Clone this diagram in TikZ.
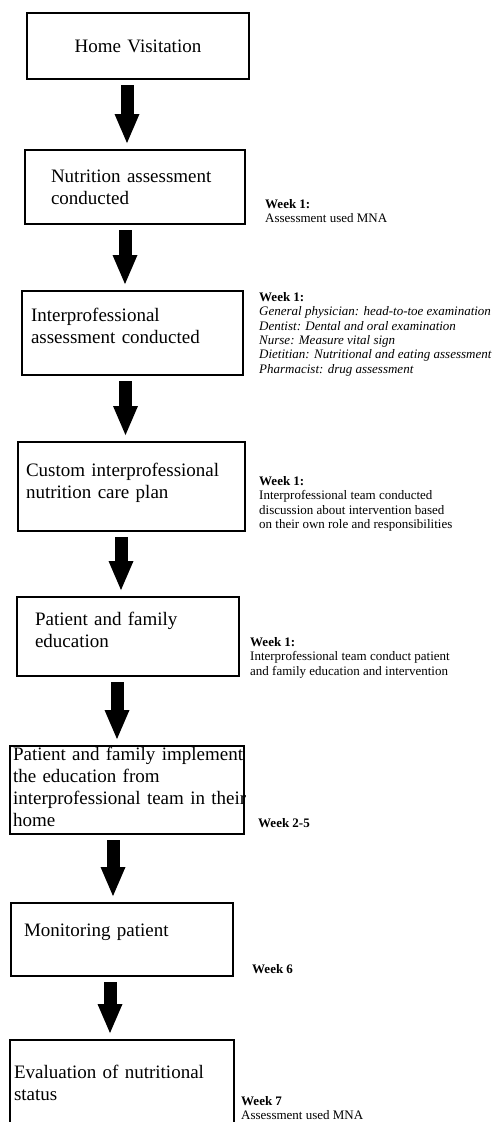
\documentclass[tikz,border=0pt]{standalone}
\usepackage{fontspec}
\setmainfont{Liberation Serif}
\usetikzlibrary{arrows.meta}

\tikzset{
  stepbox/.style={draw, line width=2pt, anchor=north west, inner ysep=0pt, align=left,
    font=\fontsize{19}{22}\selectfont},
  weeknote/.style={anchor=north west, inner sep=0pt, align=left,
    font=\fontsize{13}{14.4}\selectfont},
  bigarrow/.style={line width=13pt, -{Triangle[width=25pt,length=29pt,line width=0pt]},
    shorten <=5pt, shorten >=6pt}
}

\begin{document}
\begin{tikzpicture}[x=1pt,y=-1pt,line join=miter]
  \useasboundingbox (0,0) rectangle (493,1122);
  \node[stepbox, align=center, inner xsep=0pt, text width=222pt, minimum height=66pt] (home) at (26,12) {Home Visitation};
  \node[stepbox, inner xsep=26pt, text width=168pt, minimum height=74pt] (nutr) at (24,149) {Nutrition assessment\\conducted};
  \node[stepbox, inner xsep=9pt, text width=203pt, minimum height=84pt, text depth=36pt] (ipa) at (21,290) {Interprofessional\\assessment conducted};
  \node[stepbox, inner xsep=8pt, text width=211pt, minimum height=89pt, text depth=34pt] (plan) at (17,441) {Custom interprofessional\\nutrition care plan};
  \node[stepbox, inner xsep=18pt, text width=186pt, minimum height=79pt, text depth=36pt] (edu) at (16,596) {Patient and family\\education};
  \node[stepbox, inner xsep=3pt, text width=228pt, minimum height=88pt, text depth=72pt] (impl) at (9,745) {\mbox{Patient and family implement}\\\mbox{the education from}\\\mbox{interprofessional team in their}\\\mbox{home}};
  \node[stepbox, inner xsep=13pt, text width=196pt, minimum height=73pt, text depth=18pt] (mon) at (10,902) {Monitoring patient};
  \node[stepbox, inner xsep=4pt, text width=216pt, minimum height=86pt] (eval) at (9,1039) {Evaluation of nutritional\\status};

  \draw[bigarrow] ([xshift=-11pt]home.south) -- ([xshift=-11pt]home.south |- nutr.north);
  \draw[bigarrow] ([xshift=-10pt]nutr.south) -- ([xshift=-10pt]nutr.south |- ipa.north);
  \draw[bigarrow] ([xshift=-7pt]ipa.south) -- ([xshift=-7pt]ipa.south |- plan.north);
  \draw[bigarrow] ([xshift=-10.5pt]plan.south) -- ([xshift=-10.5pt]plan.south |- edu.north);
  \draw[bigarrow] ([xshift=-11pt]edu.south) -- ([xshift=-11pt]edu.south |- impl.north);
  \draw[bigarrow] ([xshift=-14pt]impl.south) -- ([xshift=-14pt]impl.south |- mon.north);
  \draw[bigarrow] ([xshift=-12pt]mon.south) -- ([xshift=-12pt]mon.south |- eval.north);

  \node[weeknote] (wk1a) at (265,199) {\textbf{Week 1:}\\Assessment used MNA};
  \node[weeknote] (wk1b) at (259,292) {\textbf{Week 1:}\\\textit{General physician: head-to-toe examination}\\\textit{Dentist: Dental and oral examination}\\\textit{Nurse: Measure vital sign}\\\textit{Dietitian: Nutritional and eating assessment}\\\textit{Pharmacist: drug assessment}};
  \node[weeknote] (wk1c) at (259,476) {\textbf{Week 1:}\\Interprofessional team conducted\\discussion about intervention based\\on their own role and responsibilities};
  \node[weeknote] (wk1d) at (250,637) {\textbf{Week 1:}\\Interprofessional team conduct patient\\and family education and intervention};
  \node[weeknote] (wk25) at (258,818) {\textbf{Week 2-5}};
  \node[weeknote] (wk6) at (252,964) {\textbf{Week 6}};
  \node[weeknote] (wk7) at (241,1096) {\textbf{Week 7}\\Assessment used MNA};
\end{tikzpicture}
\end{document}
